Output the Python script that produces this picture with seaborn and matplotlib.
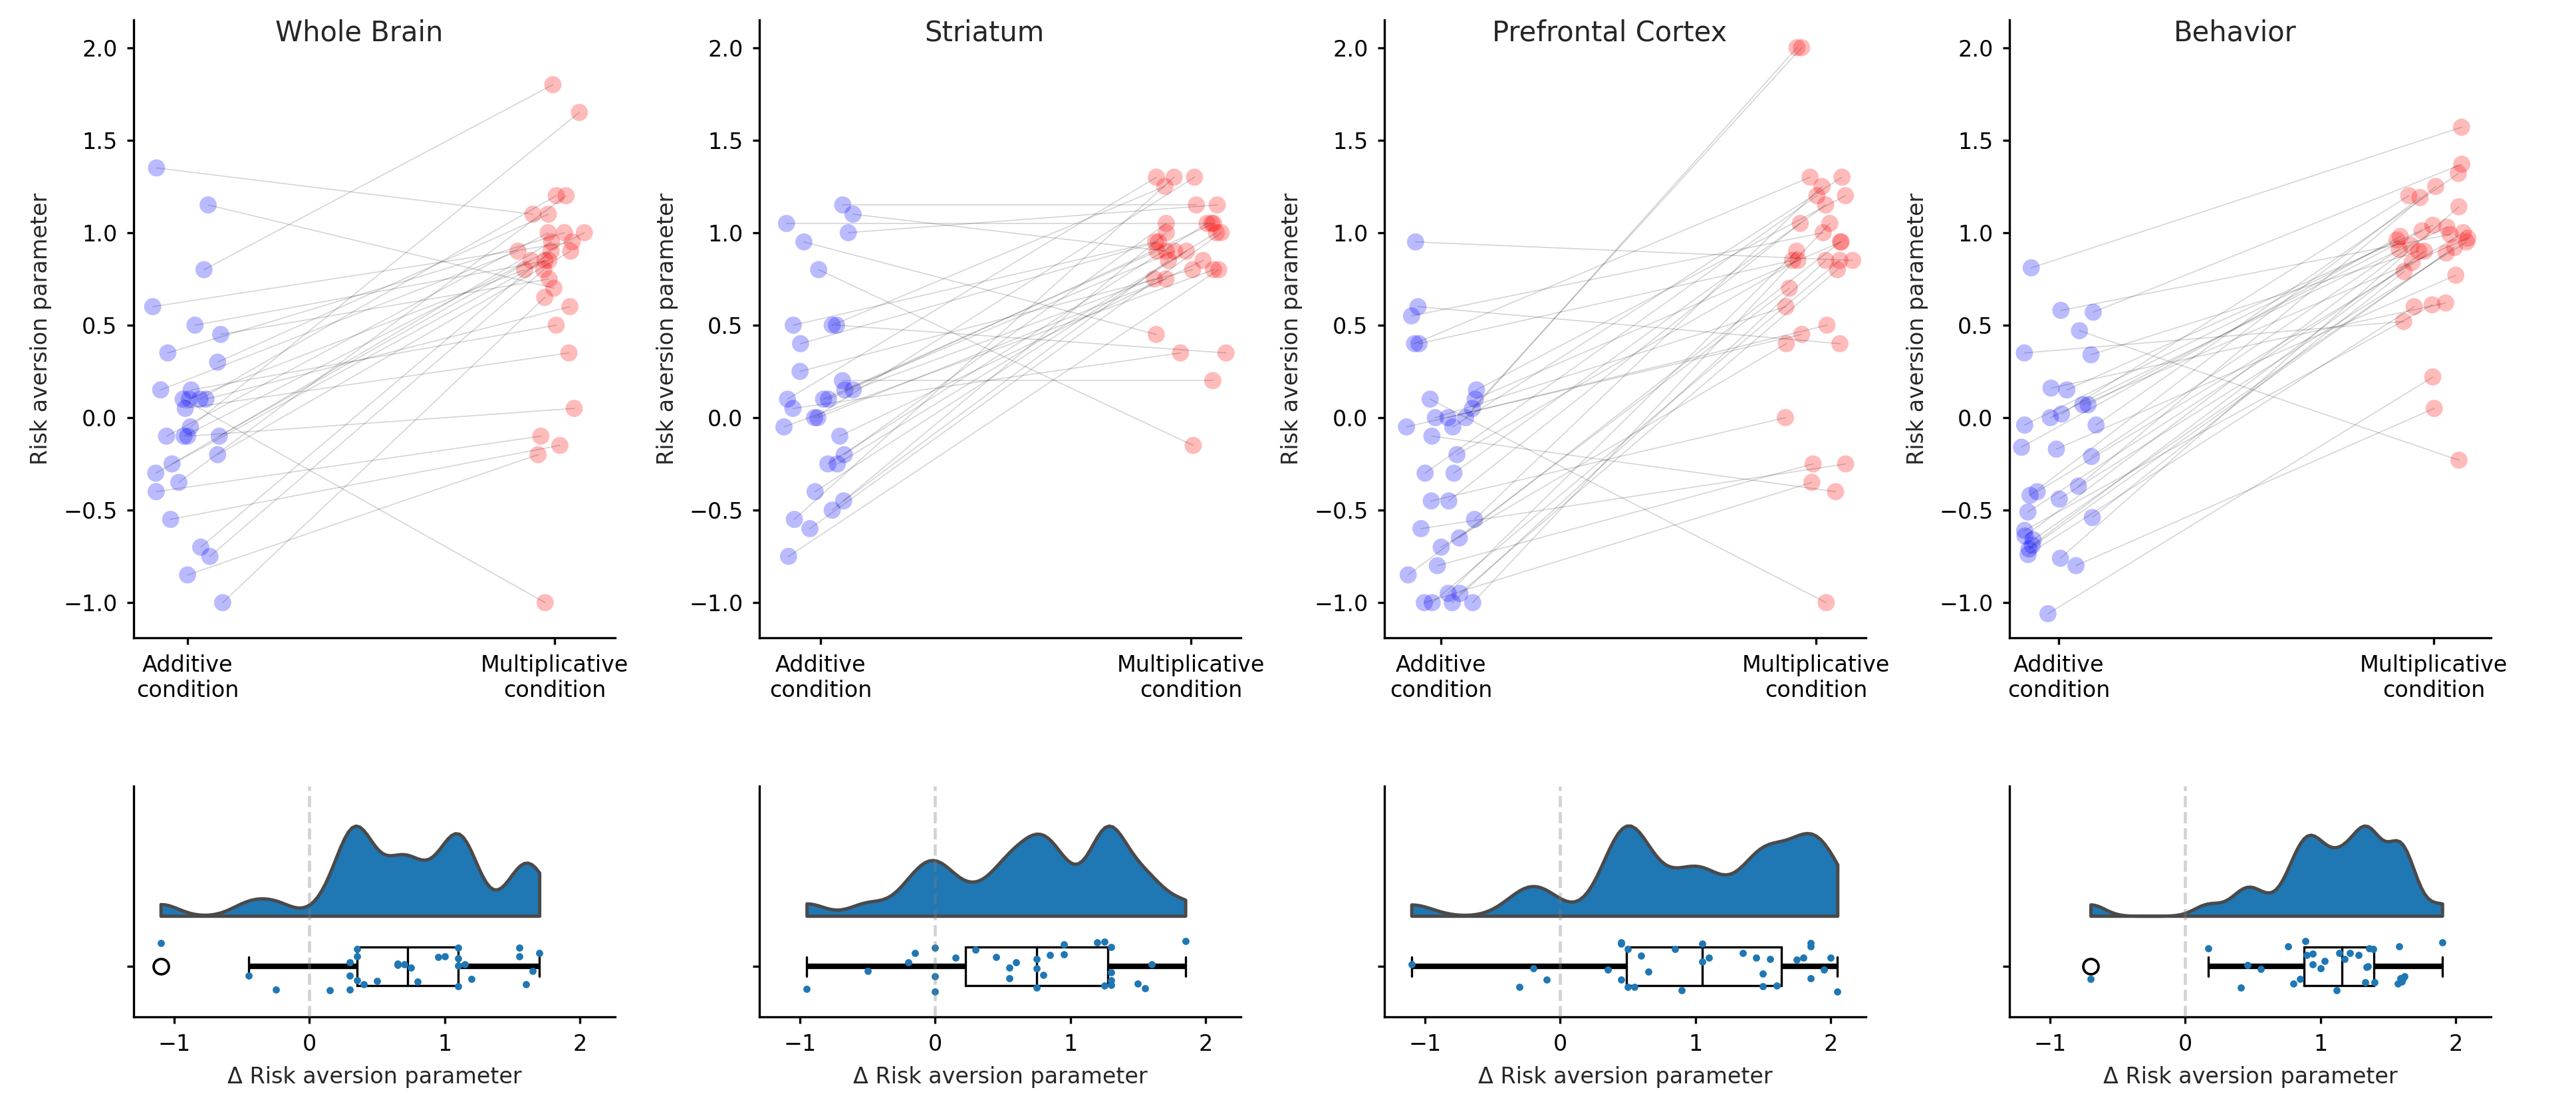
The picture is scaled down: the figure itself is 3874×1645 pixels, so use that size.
import numpy as np
import pandas as pd
import matplotlib
matplotlib.use("Agg")
import matplotlib.pyplot as plt
import seaborn as sns

# ---------------- data ----------------
titles = ["Whole Brain", "Striatum", "Prefrontal Cortex", "Behavior"]
conditions = ["Additive\ncondition", "Multiplicative\ncondition"]

wb_add = [1.35, 1.15, 0.1, 0.8, -1.0, -0.05, -0.1, -0.4, -0.55, -0.85, -0.7, -0.75,
          -0.35, -0.3, -0.25, -0.2, -0.1, -0.1, -0.1, 0.6, 0.5, 0.45, 0.35, 0.15,
          0.3, 0.15, 0.1, 0.1, 0.1, 0.05]
wb_mult = [1.1, 0.7, -1.0, 1.8, 0.65, 1.65, 0.05, -0.1, -0.15, -0.2, 0.9, 0.8,
           1.2, 0.85, 0.95, 0.9, 1.0, 1.0, 0.85, 0.95, 0.85, 0.75, 1.0, 0.5,
           1.1, 0.9, 0.8, 0.6, 1.2, 0.35]

str_add = [1.15, 1.1, 1.05, 1.0, 0.95, 0.8, 0.2, 0.5, -0.55, -0.5, -0.75, -0.6,
           -0.45, -0.4, -0.25, -0.25, -0.2, -0.1, -0.05, 0.0, 0.0, 0.1, 0.1, 0.1,
           0.15, 0.15, 0.05, 0.4, 0.5, 0.5, 0.25]
str_mult = [1.15, 0.9, 1.05, 1.15, 0.45, -0.15, 0.2, 0.35, 1.3, 1.0, 0.8, 1.0,
            0.85, 0.9, 1.05, 1.0, 1.05, 0.85, 0.8, 1.3, 0.75, 1.3, 0.9, 1.05,
            0.9, 0.75, 0.35, 0.95, 1.25, 0.95, 0.8]

pfc_add = [0.95, 0.6, 0.1, -0.1, 0.4, 0.05, 0.0, 0.55, -0.45, -0.6, -0.8, -1.0,
           -0.7, -1.0, -1.0, -1.0, -0.95, -0.95, -0.85, -0.65, -0.55, -0.45, -0.3,
           -0.3, -0.2, -0.05, 0.4, 0.15, 0.1, 0.0, 0.0, -0.05]
pfc_mult = [0.85, 0.4, -1.0, -0.4, 0.85, 2.0, 2.0, 1.0, 0.0, -0.25, -0.25, -0.35,
            0.4, 1.05, 0.85, 0.85, 0.9, 0.8, 0.7, 0.95, 1.25, 1.05, 1.2,
            1.15, 0.85, 1.3, 1.3, 1.2, 0.95, 0.6, 0.5, 0.45]

beh_add = [0.47, 0.81, 0.57, 0.58, 0.35, 0.34, -1.06, -0.8, -0.76, -0.74, -0.71,
           -0.69, -0.66, -0.64, -0.61, -0.54, -0.51, -0.44, -0.42, -0.4, -0.37,
           -0.21, -0.17, -0.16, -0.04, -0.04, 0.0, 0.02, 0.07, 0.07, 0.15, 0.16]
beh_mult = [-0.23, 1.57, 1.37, 0.99, 0.52, 0.9, 0.22, 0.05, 1.14, 0.6, 0.89,
            0.9, 0.92, 0.93, 0.61, 0.79, 0.84, 0.95, 1.19, 1.0, 1.25,
            0.91, 0.77, 0.98, 1.32, 0.96, 1.03, 1.2, 1.01, 0.97, 1.04, 0.62]

add_sets = [wb_add, str_add, pfc_add, beh_add]
mult_sets = [wb_mult, str_mult, pfc_mult, beh_mult]

top_yticks = [-1.0, -0.5, 0.0, 0.5, 1.0, 1.5, 2.0]
bottom_xticks = [-1, 0, 1, 2]

# ---------------- style ----------------
sns.set_style("ticks")
plt.rcParams.update({
    "font.family": ["DejaVu Sans"],
    "font.size": 8,
    "axes.linewidth": 0.8,
    "axes.edgecolor": "black",
    "xtick.major.size": 2.4,
    "ytick.major.size": 2.4,
    "xtick.major.width": 0.8,
    "ytick.major.width": 0.8,
    "xtick.labelsize": 8,
    "ytick.labelsize": 8,
    "axes.labelsize": 8,
    "xtick.color": "black",
    "ytick.color": "black",
})

W, H = 3874, 1645
DPI = 300
fig = plt.figure(figsize=(W / DPI, H / DPI), dpi=DPI)

lefts = [201, 1142, 2082, 3022]
ax_w = 724
top_xlims = [(-0.147, 1.165), (-0.165, 1.135), (-0.151, 1.133), (-0.131, 1.152)]
palette = {conditions[0]: "blue", conditions[1]: "red"}
# half violin: baseline at -0.196, peak reaching 0.35 above it
VIOL_W = 0.35
VIOL_POS = -0.196 - VIOL_W / 2

np.random.seed(7)

for i in range(4):
    add = np.asarray(add_sets[i], dtype=float)
    mult = np.asarray(mult_sets[i], dtype=float)
    n = len(add)

    # ---------- top: paired strip plot ----------
    ax = fig.add_axes([lefts[i] / W, 1 - 959 / H, ax_w / W, 929 / H])
    df = pd.DataFrame({
        "condition": [conditions[0]] * n + [conditions[1]] * n,
        "value": np.concatenate([add, mult]),
    })
    sns.stripplot(data=df, x="condition", y="value", hue="condition",
                  order=conditions, hue_order=conditions, palette=palette,
                  jitter=0.1, size=6.2, alpha=0.27, linewidth=0,
                  legend=False, ax=ax, zorder=2)
    cols = [c for c in ax.collections if len(c.get_offsets()) == n]
    cols.sort(key=lambda c: np.mean(c.get_offsets()[:, 0]))
    pa = cols[0].get_offsets()
    pm = cols[1].get_offsets()
    for a, m in zip(pa, pm):
        ax.plot([a[0], m[0]], [a[1], m[1]], color="black", alpha=0.17,
                lw=0.4, zorder=3)
    ax.set_xlim(*top_xlims[i])
    ax.set_ylim(-1.19, 2.15)
    ax.set_yticks(top_yticks)
    ax.set_xlabel("")
    ax.set_ylabel("Risk aversion parameter")
    ax.set_title(titles[i], fontsize=10, x=0.468, y=1 - 32 / 929, pad=0)
    sns.despine(ax=ax)

    # ---------- bottom: raincloud of the differences ----------
    delta = mult - add
    axb = fig.add_axes([lefts[i] / W, 1 - 1529 / H, ax_w / W, 347 / H])
    sns.violinplot(x=delta, y=np.full(n, VIOL_POS), orient="y", native_scale=True,
                   split=True, inner=None, cut=0, bw_method=0.2, width=VIOL_W,
                   color="#1f77b4", saturation=1, linecolor="#4a4a4a",
                   linewidth=1.2, ax=axb)
    sns.boxplot(x=delta, y=np.zeros(n), orient="y", native_scale=True,
                width=0.15, color="white", saturation=1, linecolor="black",
                linewidth=0.8, whis=1.5,
                whiskerprops={"linewidth": 2.0},
                capprops={"linewidth": 0.8},
                medianprops={"linewidth": 0.8, "color": "black"},
                flierprops={"marker": "o", "markerfacecolor": "none",
                            "markeredgecolor": "black", "markersize": 5.5,
                            "markeredgewidth": 0.9},
                ax=axb)
    sns.stripplot(x=delta, y=np.zeros(n), orient="y", native_scale=True,
                  jitter=0.1, size=2.6, color="#1f77b4", linewidth=0,
                  ax=axb, zorder=4)
    axb.axvline(0, color="gray", alpha=0.35, ls="--", lw=1.1, zorder=5)
    axb.set_xlim(-1.3, 2.26)
    axb.set_ylim(0.196, -0.70)
    axb.set_yticks([0])
    axb.set_yticklabels([""])
    axb.set_xticks(bottom_xticks)
    axb.set_xlabel("\u0394 Risk aversion parameter")
    axb.set_ylabel("")
    sns.despine(ax=axb)

fig.savefig("out.png", dpi=DPI)
